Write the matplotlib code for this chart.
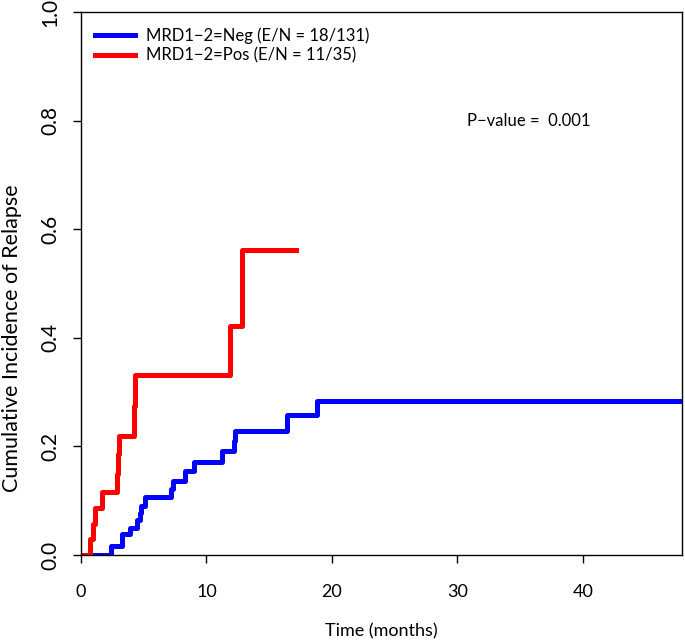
import numpy as np
import matplotlib
matplotlib.use("Agg")
from matplotlib import pyplot as plt

plt.rcParams['font.family'] = ['Lato', 'DejaVu Sans']

# cumulative incidence steps, MRD1-2 negative group
t_neg = [0.95, 2.36, 3.24, 3.90, 4.44, 4.70, 4.78, 5.10, 7.20, 7.30, 8.29, 9.00,
         11.20, 12.20, 12.30, 16.40, 18.80, 48.0]
cif_neg = [0.0, 0.016, 0.038, 0.050, 0.064, 0.077, 0.090, 0.106, 0.122, 0.137, 0.155, 0.172,
           0.191, 0.210, 0.229, 0.257, 0.283, 0.283]

# MRD1-2 positive group
t_pos = [0.0, 0.72, 0.93, 1.12, 1.65, 2.85, 2.92, 3.00, 4.20, 4.30, 11.87, 12.80, 17.10]
cif_pos = [0.0, 0.029, 0.057, 0.087, 0.116, 0.150, 0.186, 0.219, 0.275, 0.331, 0.422, 0.562, 0.562]

labels = ["MRD1\u22122=Neg (E/N = 18/131)", "MRD1\u22122=Pos (E/N = 11/35)"]
p_text = "P\u2212value =  0.001"

xticks = [0, 10, 20, 30, 40]
yticks = [0.0, 0.2, 0.4, 0.6, 0.8, 1.0]

fig = plt.figure(figsize=(6.85, 6.4), dpi=100)
ax = fig.add_axes([81 / 685, 85 / 640, 601 / 685, 543 / 640])

ax.step(t_neg, cif_neg, where='post', color='#0000ff', lw=3.6, label=labels[0])
ax.step(t_pos, cif_pos, where='post', color='#ff0000', lw=3.6, label=labels[1])

ax.set_xlim(0, 47.9)
ax.set_ylim(0, 1)
ax.set_xticks(xticks)
ax.set_yticks(yticks)
ax.set_yticklabels(['%.1f' % v for v in yticks], rotation=90, va='center')
ax.tick_params(axis='both', length=6, width=1, direction='out')
ax.tick_params(axis='x', pad=15, labelsize=13)
ax.tick_params(axis='y', pad=9, labelsize=15)
for s in ax.spines.values():
    s.set_linewidth(1)

ax.set_xlabel("Time (months)", fontsize=13, labelpad=17)
ax.set_ylabel("Cumulative Incidence of Relapse", fontsize=15.5)
ax.yaxis.set_label_coords(-0.098, 0.40)

ax.text(30.8, 0.8, p_text, fontsize=12, ha='left', va='center')

ax.legend(loc='upper left', bbox_to_anchor=(0.023, 0.971), frameon=False,
          fontsize=12, handlelength=2.4, handletextpad=0.7, labelspacing=0.2,
          borderpad=0, borderaxespad=0)

fig.savefig("out.png", dpi=100)
